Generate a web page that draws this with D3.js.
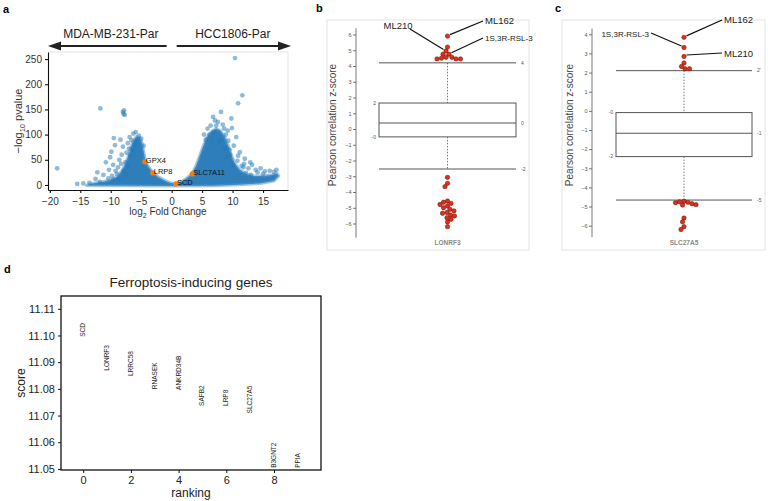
<!DOCTYPE html>
<html><head><meta charset="utf-8">
<script src="https://cdn.jsdelivr.net/npm/d3@7"></script>
<style>
body{margin:0;background:#fff}
text{font-family:"Liberation Sans",Arial,Helvetica,sans-serif}
</style>
</head><body><svg id="chart" width="768" height="501"></svg>
<script>
// ---------------- DATA ----------------
// Panel a: volcano plot
const volcanoX = [-18.8,-11.7,-8.0,-7.8,-7.9,-7.7,-9.5,-9.3,-9.9,-8.0,-8.2,-7.4,-8.6,-9.6,-10.3,-10.4,-9.6,-6.3,-6.6,-7.2,-7.0,-6.8,-7.6,-8.8,-11.2,-12.5,-11.8,-13.5,-10.8,-9.0,-7.9,-6.9,-5.9,-5.4,-6.1,-8.4,-10.1,-12.2,-14.5,-15.5,-9.8,-8.8,-7.2,-7.5,-5.0,-4.6,-5.7,-6.4,-8.3,-9.2,
  10.4,11.6,10.9,9.8,9.9,8.1,7.1,6.4,8.9,9.3,10.2,11.2,12.0,10.8,11.5,12.6,13.2,14.1,15.3,16.1,17.2,16.8,13.8,12.2,9.6,8.8,7.6,5.9,5.3,6.8,8.4,9.2,10.6,11.8,13.0,15.0,7.9,12.9,14.6,10.1,9.0,6.2,7.3,8.6,5.6,6.9,9.5,10.9,11.9];
const volcanoY = [33,152,145,148,141,139,93,79,66,76,60,64,50,40,30,13,10,102,89,83,72,58,45,35,20,12,6,4,45,22,28,95,105,98,80,90,55,25,3,2,18,12,38,20,92,78,88,70,42,28,
  252,178,162,132,113,145,128,118,100,88,78,65,52,48,38,33,40,25,27,28,30,26,30,24,60,72,125,112,100,135,120,108,95,35,20,22,88,45,33,40,55,100,118,112,90,105,70,58,42];
// outline of the saturated (overplotted) region of the volcano
const denseX = [-14,-13,-11.5,-10,-9,-8.2,-7.6,-7.1,-6.7,-6.3,-5.8,-5.3,-4.9,-4.6,-4.3,-3.8,-3.1,-2.2,-1.3,-0.4,0.6,1.5,2.4,3.3,4.0,4.6,5.2,5.8,6.5,7.3,8.0,8.7,9.3,9.8,10.4,11.2,12.2,13.5,15,16.3,17.3,17.6,16.8,14.5,11,7,0,-7,-14];
const denseY = [-1,3,6,10,16,28,42,58,75,88,96,95,85,68,48,36,25,16,10,5,2.5,6,13,22,38,58,78,95,106,112,108,96,78,60,42,30,22,18,18,20,23,18,8,3,0.5,-1.5,-2,-1.5,-1];
const highlightGenes = ["GPX4","LRP8","SCD","SLC7A11"];
const highlightX = [-4.4,-3.1,0.7,3.4];
const highlightY = [46,24,2,22];
const volcanoXTicks = [-20,-15,-10,-5,0,5,10,15];
const volcanoYTicks = [0,50,100,150,200,250];
const groupLabels = ["MDA-MB-231-Par","HCC1806-Par"];

// Panel b: LONRF3
const lonrf3Dots = [5.9,5.2,4.95,4.75,4.75,4.55,4.55,4.45,4.45,4.45,4.5,
  -3.07,-3.45,-3.66,-4.57,-4.65,-4.72,-4.79,-4.89,-5.0,-5.1,-5.2,-5.3,-5.35,-5.46,-5.52,-5.63,-5.73,-5.9,-6.2];
const lonrf3Box = [-2.54,-0.5,0.38,1.65,4.2];      // lower whisker, q1, median, q3, upper whisker
const lonrf3BoxLabels = ["-2","-0","0","2","4"];
const lonrf3Ticks = [-6,-5,-4,-3,-2,-1,0,1,2,3,4,5,6];
const lonrf3Drugs = ["ML162","ML210","1S,3R-RSL-3"];
const lonrf3DrugValues = [5.9,4.95,4.75];

// Panel c: SLC27A5
const slc27a5Dots = [3.84,3.31,2.84,2.5,2.32,2.2,2.2,
  -4.72,-4.75,-4.8,-4.85,-4.9,-4.92,-4.78,-5.6,-5.8,-6.05,-6.2];
const slc27a5Box = [-4.66,-2.39,-1.17,-0.09,2.1];
const slc27a5BoxLabels = ["-5","-2","-1","-0","2'"];
const slc27a5Ticks = [-6,-5,-4,-3,-2,-1,0,1,2,3,4];
const slc27a5Drugs = ["ML162","1S,3R-RSL-3","ML210"];
const slc27a5DrugValues = [3.84,3.31,2.84];

// Panel d: ferroptosis-inducing genes
const geneNames = ["SCD","LONRF3","LRRC58","RNASEK","ANKRD34B","SAFB2","LRP8","SLC27A5","B3GNT2","PPIA"];
const geneRank = [0,1,2,3,4,5,6,7,8,9];
const geneScore = [11.0995,11.0868,11.0848,11.0799,11.0796,11.0736,11.0736,11.0708,11.0504,11.0504];
const scoreTicks = [11.05,11.06,11.07,11.08,11.09,11.10,11.11];
const rankTicks = [0,2,4,6,8];

// ---------------- DRAW ----------------
const svg = d3.select("#chart");
const FONT = '"Liberation Sans",Arial,Helvetica,sans-serif';

function panelLetter(t,x,y){
  svg.append("text").attr("x",x).attr("y",y).attr("font-size",11).attr("font-weight","bold").text(t);
}
panelLetter("a",3,13); panelLetter("b",316,12); panelLetter("c",555,12); panelLetter("d",4,273);

// ===== Panel a =====
(function(){
  const L=48,R=288,T=52,B=190;
  const x = d3.scaleLinear().domain([-20.3,19.1]).range([L,R]);
  const y = d3.scaleLinear().domain([-10,264]).range([B,T]);
  const g = svg.append("g");
  g.append("clipPath").attr("id","clipA").append("rect").attr("x",L).attr("y",T).attr("width",R-L).attr("height",B-T);
  g.append("path").attr("d",`M${L},${T}H${R}V${B}`).attr("fill","none").attr("stroke","#e3e3e3").attr("stroke-width",1);
  const pg = g.append("g").attr("clip-path","url(#clipA)");
  const area = d3.line().x(d=>x(d[0])).y(d=>y(d[1])).curve(d3.curveLinearClosed);
  pg.append("path").datum(denseX.map((v,i)=>[v,denseY[i]])).attr("d",area)
    .attr("fill","#2f7ebc").attr("stroke","#4f93cb").attr("stroke-width",3).attr("stroke-opacity",0.55).attr("stroke-linejoin","round");
  pg.selectAll("circle.pt").data(volcanoX.map((v,i)=>[v,volcanoY[i]])).join("circle").attr("class","pt")
    .attr("cx",d=>x(d[0])).attr("cy",d=>y(d[1])).attr("r",2.4)
    .attr("fill","#1f77b4").attr("fill-opacity",0.5);
  pg.selectAll("circle.hl").data(highlightGenes).join("circle").attr("class","hl")
    .attr("cx",(d,i)=>x(highlightX[i])).attr("cy",(d,i)=>y(highlightY[i])).attr("r",2.7)
    .attr("fill","#f07f13");
  g.selectAll("text.hl").data(highlightGenes).join("text").attr("class","hl")
    .attr("x",(d,i)=>x(highlightX[i])+1).attr("y",(d,i)=>y(highlightY[i])+1.5)
    .attr("font-size",7.5).attr("fill","#111").text(d=>d);
  const ax = g.append("g").attr("transform",`translate(0,${B})`)
    .call(d3.axisBottom(x).tickValues(volcanoXTicks).tickSize(3).tickSizeOuter(0).tickFormat(d=>d<0?"\u2212"+(-d):d));
  const ay = g.append("g").attr("transform",`translate(${L},0)`)
    .call(d3.axisLeft(y).tickValues(volcanoYTicks).tickSize(3).tickSizeOuter(0));
  [ax,ay].forEach(a=>{a.selectAll("path,line").attr("stroke","#111").attr("stroke-width",1.1);
    a.selectAll("text").attr("font-size",10).attr("fill","#333").attr("font-family",FONT);});
  ax.selectAll("text").attr("dy","0.9em");
  const xt = g.append("text").attr("x",(L+R)/2).attr("y",215).attr("text-anchor","middle").attr("font-size",10).attr("fill","#333");
  xt.append("tspan").text("log");
  xt.append("tspan").attr("font-size",7).attr("dy",2.5).text("2");
  xt.append("tspan").attr("dy",-2.5).text(" Fold Change");
  const yt = g.append("text").attr("transform",`translate(22,${(T+B)/2}) rotate(-90)`).attr("text-anchor","middle").attr("font-size",11).attr("fill","#333");
  yt.append("tspan").text("\u2212log");
  yt.append("tspan").attr("font-size",7.5).attr("dy",3).text("10");
  yt.append("tspan").attr("dy",-3).text(" pvalue");
  const ya = 46;
  const mid = x(0);
  g.append("line").attr("x1",mid-5).attr("x2",L+10).attr("y1",ya).attr("y2",ya).attr("stroke","#222").attr("stroke-width",1.8);
  g.append("path").attr("d",`M${L},${ya}L${L+13},${ya-4.5}L${L+13},${ya+4.5}Z`).attr("fill","#222");
  g.append("line").attr("x1",mid+5).attr("x2",R-8).attr("y1",ya).attr("y2",ya).attr("stroke","#222").attr("stroke-width",1.8);
  g.append("path").attr("d",`M${R+3},${ya}L${R-10},${ya-4.5}L${R-10},${ya+4.5}Z`).attr("fill","#222");
  g.append("text").attr("x",(L+mid)/2+1).attr("y",38).attr("text-anchor","middle").attr("font-size",12).attr("fill","#222").text(groupLabels[0]);
  g.append("text").attr("x",(mid+R)/2+3).attr("y",38).attr("text-anchor","middle").attr("font-size",12).attr("fill","#222").text(groupLabels[1]);
})();

// ===== Panels b, c =====
function swarm(values, y, r){
  const order = values.map((v,i)=>i).sort((a,b)=>d3.descending(values[a],values[b]));
  const placed = []; const out = new Array(values.length);
  order.forEach(i=>{
    const py = y(values[i]);
    for(let k=0;k<400;k++){
      const off = (k%2===0?1:-1)*Math.ceil(k/2)*0.5;
      if(placed.every(p=>(p.x-off)**2+(p.y-py)**2 >= (2*r-0.3)**2)){
        placed.push({x:off,y:py}); out[i]={dx:off,y:py}; break;
      }
    }
  });
  return out;
}

function boxPanel(cfg){
  const g = svg.append("g");
  g.append("rect").attr("x",cfg.fx).attr("y",20).attr("width",cfg.fw).attr("height",230)
    .attr("fill","none").attr("stroke","#e4e4e4").attr("stroke-width",1);
  const y = d3.scaleLinear().domain([cfg.ticks[0],cfg.ticks[cfg.ticks.length-1]]).range(cfg.yr);
  const ax = g.append("g").attr("transform",`translate(${cfg.ax},0)`)
    .call(d3.axisLeft(y).tickValues(cfg.ticks).tickSize(3).tickSizeOuter(0));
  ax.select(".domain").attr("d",`M0,${y(cfg.axDom[0])}V${y(cfg.axDom[1])}`);
  ax.selectAll("path,line").attr("stroke","#555").attr("stroke-width",0.8);
  ax.selectAll("text").attr("font-size",5.5).attr("fill","#555").attr("x",-4.5).attr("font-family",FONT);
  g.append("text").attr("transform",`translate(${cfg.ylx},125) rotate(-90)`).attr("text-anchor","middle")
    .attr("font-size",10).attr("fill","#444").text("Pearson correlation z-score");
  const [lw,q1,med,q3,uw] = cfg.box;
  const bx0 = cfg.bx0, bx1 = cfg.bx1, cx = (bx0+bx1)/2;
  const st = "#555";
  g.append("line").attr("x1",cx).attr("x2",cx).attr("y1",y(uw)).attr("y2",y(q3)).attr("stroke",st).attr("stroke-width",0.8).attr("stroke-dasharray","1.5,1.5");
  g.append("line").attr("x1",cx).attr("x2",cx).attr("y1",y(q1)).attr("y2",y(lw)).attr("stroke",st).attr("stroke-width",0.8).attr("stroke-dasharray","1.5,1.5");
  [uw,lw].forEach(v=>g.append("line").attr("x1",bx0).attr("x2",bx1).attr("y1",y(v)).attr("y2",y(v)).attr("stroke",st).attr("stroke-width",1));
  g.append("rect").attr("x",bx0).attr("y",y(q3)).attr("width",bx1-bx0).attr("height",y(q1)-y(q3)).attr("fill","#fff").attr("stroke",st).attr("stroke-width",1);
  g.append("line").attr("x1",bx0).attr("x2",bx1).attr("y1",y(med)).attr("y2",y(med)).attr("stroke",st).attr("stroke-width",1);
  const vals = cfg.box, sides = ["r","l","r","l","r"];
  vals.forEach((v,i)=>{
    g.append("text").attr("x",sides[i]==="r"?bx1+5:bx0-3).attr("y",y(v)).attr("dy","0.35em")
      .attr("text-anchor",sides[i]==="r"?"start":"end").attr("font-size",5).attr("fill","#555").text(cfg.boxLabels[i]);
  });
  const r = 2.2;
  const sw = swarm(cfg.dots, y, r);
  g.selectAll("circle").data(cfg.dots).join("circle")
    .attr("cx",(d,i)=>cx+sw[i].dx).attr("cy",(d,i)=>sw[i].y).attr("r",r)
    .attr("fill","#e0301e").attr("stroke","#5a1208").attr("stroke-width",0.5);
  cfg.drugs.forEach((name,k)=>{
    const idx = cfg.dots.indexOf(cfg.drugValues[k]);
    const px = cx+sw[idx].dx, py = sw[idx].y;
    const a = cfg.ann[k];
    const ex = px + (a.lx<px? -2.5:2.5), ey = py-1.5;
    g.append("line").attr("x1",a.lx).attr("y1",a.ly).attr("x2",ex).attr("y2",ey).attr("stroke","#111").attr("stroke-width",1.2);
    g.append("text").attr("x",a.tx).attr("y",a.ty).attr("text-anchor",a.anchor).attr("font-size",a.fs).attr("fill","#222").text(name);
  });
  g.append("text").attr("x",cx).attr("y",245).attr("text-anchor","middle").attr("font-size",6.5).attr("font-weight","bold").attr("fill","#888").text(cfg.gene);
}

boxPanel({fx:327,fw:202,ax:356,yr:[223.5,34.5],ticks:lonrf3Ticks,axDom:[-6.9,6.4],ylx:336,
  box:lonrf3Box,boxLabels:lonrf3BoxLabels,bx0:379,bx1:516,dots:lonrf3Dots,gene:"LONRF3",
  drugs:lonrf3Drugs,drugValues:lonrf3DrugValues,
  ann:[{lx:483,ly:21,tx:485,ty:24,anchor:"start",fs:9.5},
       {lx:410,ly:29,tx:398,ty:29,anchor:"middle",fs:9.5},
       {lx:483,ly:38,tx:485,ty:41,anchor:"start",fs:8}]});
boxPanel({fx:562,fw:203,ax:592,yr:[225.7,34.3],ticks:slc27a5Ticks,axDom:[-6.6,4.3],ylx:573,
  box:slc27a5Box,boxLabels:slc27a5BoxLabels,bx0:616,bx1:752,dots:slc27a5Dots,gene:"SLC27A5",
  drugs:slc27a5Drugs,drugValues:slc27a5DrugValues,
  ann:[{lx:722,ly:20,tx:724,ty:23,anchor:"start",fs:9.5},
       {lx:651,ly:33,tx:649,ty:37,anchor:"end",fs:8},
       {lx:722,ly:53,tx:724,ty:57,anchor:"start",fs:9.5}]});

// ===== Panel d =====
(function(){
  const L=61,R=321,T=296,B=470;
  const x = d3.scaleLinear().domain([-0.93,9.97]).range([L,R]);
  const y = d3.scaleLinear().domain([11.0496,11.1148]).range([B,T]);
  const g = svg.append("g");
  g.append("text").attr("x",(L+R)/2).attr("y",287).attr("text-anchor","middle").attr("font-size",13.5).attr("fill","#222").text("Ferroptosis-inducing genes");
  const ax = g.append("g").attr("transform",`translate(0,${B})`).call(d3.axisBottom(x).tickValues(rankTicks).tickSize(3).tickSizeOuter(0));
  const ay = g.append("g").attr("transform",`translate(${L},0)`).call(d3.axisLeft(y).tickValues(scoreTicks).tickSize(3).tickSizeOuter(0).tickFormat(d3.format(".2f")));
  [ax,ay].forEach(a=>{a.select(".domain").remove();a.selectAll("line").attr("stroke","#111").attr("stroke-width",1);
    a.selectAll("text").attr("font-size",11).attr("fill","#222").attr("font-family",FONT);});
  g.append("rect").attr("x",L).attr("y",T).attr("width",R-L).attr("height",B-T).attr("fill","none").attr("stroke","#111").attr("stroke-width",1.3);
  g.selectAll("text.gene").data(geneNames).join("text").attr("class","gene")
    .attr("transform",(d,i)=>`translate(${x(geneRank[i])+2},${y(geneScore[i])}) rotate(-90)`)
    .attr("font-size",6.5).attr("fill","#222").text(d=>d);
  g.append("text").attr("x",(L+R)/2).attr("y",497).attr("text-anchor","middle").attr("font-size",12).attr("fill","#222").text("ranking");
  g.append("text").attr("transform",`translate(25,${(T+B)/2}) rotate(-90)`).attr("text-anchor","middle").attr("font-size",12).attr("fill","#222").text("score");
})();
</script>
</body></html>
